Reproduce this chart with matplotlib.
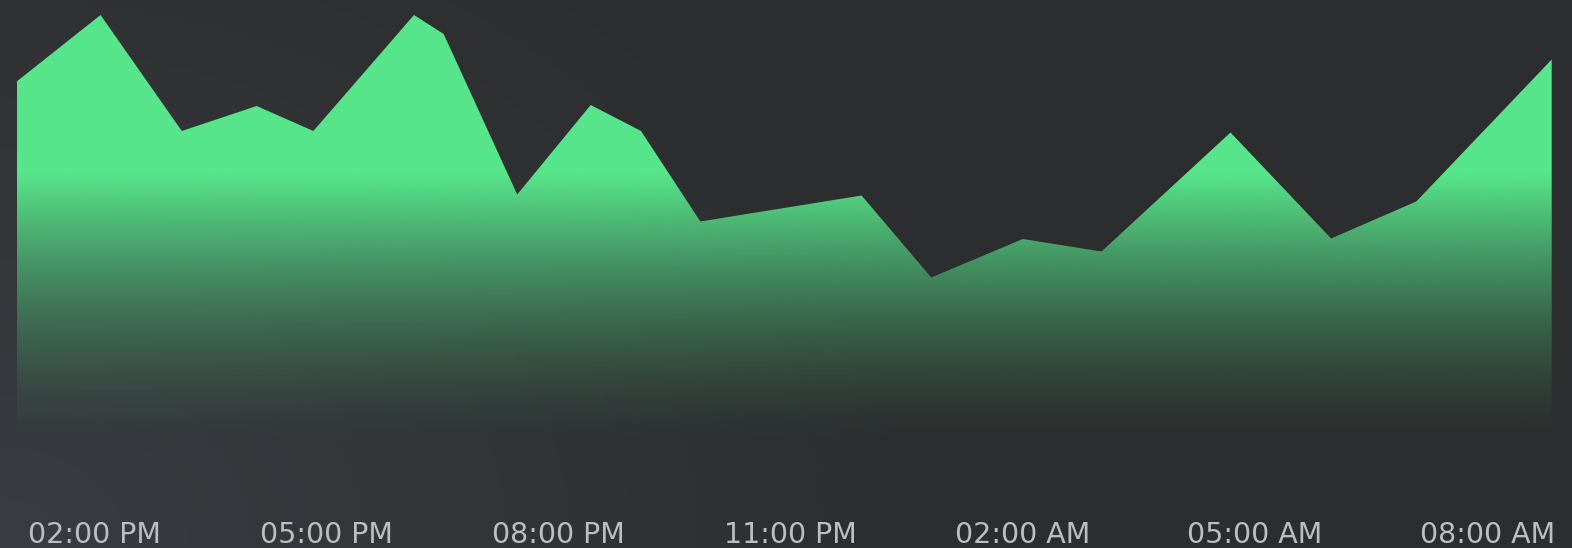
import numpy as np
import pandas as pd
import matplotlib
matplotlib.use("Agg")
import matplotlib.pyplot as plt
import matplotlib.dates as mdates

# ---- data ----
times = [
    "2024-05-01 13:00", "2024-05-01 14:05", "2024-05-01 15:08", "2024-05-01 16:06",
    "2024-05-01 16:50", "2024-05-01 18:08", "2024-05-01 18:31", "2024-05-01 19:28",
    "2024-05-01 20:25", "2024-05-01 21:04", "2024-05-01 21:50", "2024-05-01 23:55",
    "2024-05-02 00:49", "2024-05-02 02:00", "2024-05-02 03:01", "2024-05-02 04:41",
    "2024-05-02 05:59", "2024-05-02 07:05", "2024-05-02 08:50",
]
values = [83.7, 97.0, 73.8, 78.8, 73.8, 97.0, 93.2, 61.1, 79.0, 73.8,
          55.7, 60.9, 44.5, 52.2, 49.7, 73.5, 52.3, 59.7, 88.1]
tick_times = ["2024-05-01 14:00", "2024-05-01 17:00", "2024-05-01 20:00",
              "2024-05-01 23:00", "2024-05-02 02:00", "2024-05-02 05:00",
              "2024-05-02 08:00"]
tick_labels = ["02:00 PM", "05:00 PM", "08:00 PM", "11:00 PM",
               "02:00 AM", "05:00 AM", "08:00 AM"]

W, H = 1572, 548
fig = plt.figure(figsize=(W / 100, H / 100), dpi=100)

# background gradient (lighter towards bottom-left)
bg = fig.add_axes([0, 0, 1, 1])
bg.axis("off")
yy, xx = np.mgrid[0:H, 0:W]
yb = H - 1 - yy
d = np.sqrt((xx / 950.0) ** 2 + (yb / 750.0) ** 2)
f = np.clip(1 - d, 0, 1)
dark = np.array([44, 45, 46]) / 255
light = np.array([57, 60, 65]) / 255
bgimg = dark + f[..., None] * (light - dark)
bg.imshow(bgimg, extent=[0, 1, 0, 1], aspect="auto", origin="upper")
bg.set_xlim(0, 1)
bg.set_ylim(0, 1)

# main axes
x0px, x1px = 16.7, 1551.7
ax = fig.add_axes([x0px / W, 48 / H, (x1px - x0px) / W, 500 / H])
ax.patch.set_alpha(0)

x = mdates.date2num(pd.to_datetime(times))
poly = ax.fill_between(x, values, 0, facecolor="none", edgecolor="none")

green = np.array([87, 229, 139]) / 255
vgrid = np.linspace(0, 100, 600)
alpha = np.clip((vgrid - 11) / 54.0, 0, 1) ** 1.5
rgba = np.zeros((600, 2, 4))
rgba[..., :3] = green
rgba[..., 3] = alpha[:, None]
im = ax.imshow(rgba, extent=[x[0], x[-1], 0, 100], origin="lower",
               aspect="auto", interpolation="bilinear", zorder=2)
im.set_clip_path(poly.get_paths()[0], transform=ax.transData)

ax.set_xlim(x[0], x[-1])
ax.set_ylim(0, 100)
for s in ax.spines.values():
    s.set_visible(False)
ax.set_yticks([])
ax.set_xticks(mdates.date2num(pd.to_datetime(tick_times)))
ax.set_xticklabels(tick_labels)
ax.tick_params(axis="x", length=0, pad=15.0, labelsize=20.5, labelcolor="#bcbec0")

fig.savefig("out.png", dpi=100)
